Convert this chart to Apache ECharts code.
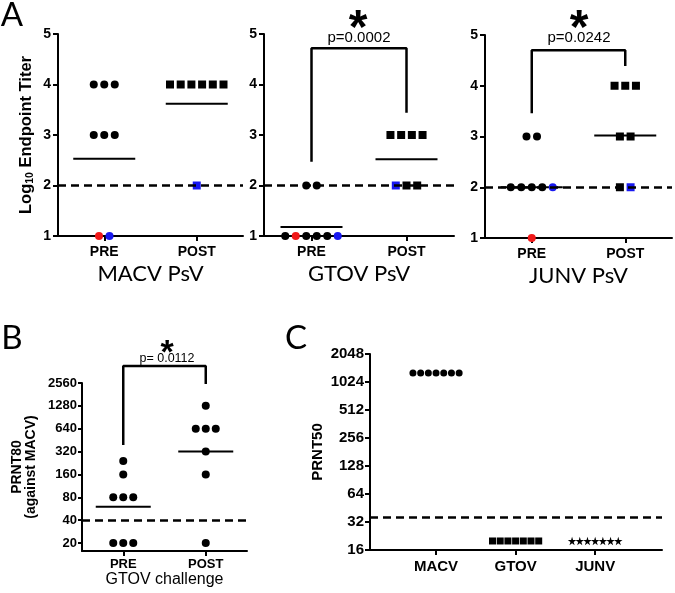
<!DOCTYPE html>
<html><head><meta charset="utf-8">
<script src="https://cdn.jsdelivr.net/npm/echarts@6/dist/echarts.min.js"></script>
<style>html,body{margin:0;padding:0;background:#fff}#c{width:675px;height:593px}</style>
</head><body><div id="c"></div>
<script>
// ---------------- data ----------------
const panelTitles = ['MACV PsV', 'GTOV PsV', 'JUNV PsV'];
const groupCats = ['PRE', 'POST'];
const aTicks = [1, 2, 3, 4, 5];
const aYTitle = ['Log', '10', ' Endpoint Titer'];
const aCutoff = 2;

const macvPre = [4, 4, 4, 3, 3, 3, 1, 1];
const macvPreColors = ['k', 'k', 'k', 'k', 'k', 'k', 'r', 'b'];
const macvPost = [4, 4, 4, 4, 4, 4, 2];
const macvPostColors = ['k', 'k', 'k', 'k', 'k', 'k', 'b'];
const macvMeans = [2.53, 3.62];

const gtovPre = [2, 2, 1, 1, 1, 1, 1, 1];
const gtovPreColors = ['k', 'k', 'k', 'r', 'k', 'k', 'k', 'b'];
const gtovPost = [3, 3, 3, 3, 2, 2, 2];
const gtovPostColors = ['k', 'k', 'k', 'k', 'b', 'k', 'k'];
const gtovMeans = [1.18, 2.52];
const gtovBracket = [2.47, 4.72, 3.44];
const gtovP = 'p=0.0002';

const junvPre = [3, 3, 2, 2, 2, 2, 2, 1];
const junvPreColors = ['k', 'k', 'k', 'k', 'k', 'k', 'b', 'r'];
const junvPost = [4, 4, 4, 3, 3, 2, 2];
const junvPostColors = ['k', 'k', 'k', 'k', 'k', 'k', 'b'];
const junvMeans = [2.0, 3.02];
const junvBracket = [3.46, 4.70, 4.39];
const junvP = 'p=0.0242';

const bTicks = [20, 40, 80, 160, 320, 640, 1280, 2560];
const bYTitle = 'PRNT80\n(against MACV)';
const bXTitle = 'GTOV challenge';
const bPre = [20, 20, 20, 80, 80, 80, 160, 240];
const bPost = [20, 160, 320, 640, 640, 640, 1280];
const bMeans = [60, 320];
const bBracket = [390, 4300, 2490];
const bP = 'p= 0.0112';
const bCutoff = 40;
const bAxisMin = 15.7;

const cCats = ['MACV', 'GTOV', 'JUNV'];
const cTicks = [16, 32, 64, 128, 256, 512, 1024, 2048];
const cYTitle = 'PRNT50';
const cMacv = [1280, 1280, 1280, 1280, 1280, 1280, 1280];
const cGtov = [20, 20, 20, 20, 20, 20, 20];
const cJunv = [20, 20, 20, 20, 20, 20, 20];
const cCutoff = 36;

// ---------------- helpers ----------------
const COLORS = { k: '#000000', r: '#f01818', b: '#1818f0' };
const L2 = v => Math.log2(v);
const BOLD = 'Liberation Sans';
const STAR = 'path://M50,0 L61,35 L98,35 L68,57 L79,91 L50,70 L21,91 L32,57 L2,35 L39,35 Z';

function spread(values, spacing) {
  const counts = {}, seen = {};
  values.forEach(v => { counts[v] = (counts[v] || 0) + 1; });
  return values.map(v => {
    seen[v] = seen[v] === undefined ? 0 : seen[v] + 1;
    return (seen[v] - (counts[v] - 1) / 2) * spacing;
  });
}
function pts(xi, values, colors, spacing, tf) {
  const offs = spread(values, spacing);
  return values.map((v, i) => ({
    value: [xi, tf ? tf(v) : v],
    symbolOffset: [offs[i], 0],
    itemStyle: { color: COLORS[colors ? colors[i] : 'k'], opacity: 1 }
  }));
}
const axisLineStyle = { show: true, onZero: false, lineStyle: { color: '#000', width: 2 } };
const tickStyle = len => ({ show: true, length: len, lineStyle: { color: '#000', width: 2 } });
const lblStyle = (size, margin) => ({ fontFamily: BOLD, fontWeight: 'bold', fontSize: size, color: '#000', margin: margin });
const dashed = (val) => ({
  silent: true, symbol: 'none', animation: false,
  label: { show: false },
  lineStyle: { type: [8, 5], width: 2.5, color: '#000', opacity: 1 },
  data: [{ yAxis: val }]
});
const solid = { color: '#000', opacity: 1 };

const grids = [
  { left: 58, top: 34, width: 185, height: 202 },
  { left: 264, top: 34, width: 190, height: 202 },
  { left: 485, top: 35, width: 187, height: 203 },
  { left: 82, top: 383, width: 165, height: 168 },
  { left: 370, top: 354, width: 292, height: 196 }
];

const xAxis = [], yAxis = [], series = [];
const aSets = [
  [macvPre, macvPreColors, macvPost, macvPostColors, macvMeans, null],
  [gtovPre, gtovPreColors, gtovPost, gtovPostColors, gtovMeans, gtovBracket],
  [junvPre, junvPreColors, junvPost, junvPostColors, junvMeans, junvBracket]
];
aSets.forEach((s, i) => {
  xAxis.push({
    gridIndex: i, type: 'category', data: groupCats, boundaryGap: true,
    axisLine: axisLineStyle, axisTick: Object.assign(tickStyle(5), { alignWithLabel: true }),
    axisLabel: lblStyle(14, 9),
    name: panelTitles[i], nameLocation: 'middle', nameGap: 27,
    nameTextStyle: { fontFamily: 'Lato', fontSize: 22, color: '#000' }
  });
  const ya = {
    gridIndex: i, type: 'value', min: aTicks[0], max: aTicks[aTicks.length - 1], interval: 1,
    splitLine: { show: false }, axisLine: axisLineStyle, axisTick: tickStyle(5),
    axisLabel: lblStyle(14, 7)
  };
  if (i === 0) {
    ya.name = '{n|' + aYTitle[0] + '}{s|' + aYTitle[1] + '}{n|' + aYTitle[2] + '}';
    ya.nameLocation = 'middle';
    ya.nameGap = 22;
    ya.nameTextStyle = {
      rich: {
        n: { fontFamily: BOLD, fontWeight: 'bold', fontSize: 16.5, color: '#000', lineHeight: 20 },
        s: { fontFamily: BOLD, fontWeight: 'bold', fontSize: 10.5, color: '#000', lineHeight: 20, verticalAlign: 'bottom' }
      }
    };
  }
  yAxis.push(ya);
  series.push({
    type: 'scatter', xAxisIndex: i, yAxisIndex: i, symbol: 'rect', symbolSize: [62, 2], z: 2,
    itemStyle: solid, data: s[4].map((m, j) => [j, m]),
    markLine: dashed(aCutoff)
  });
  series.push({ type: 'scatter', xAxisIndex: i, yAxisIndex: i, symbol: 'circle', symbolSize: 8, z: 3, itemStyle: solid, data: pts(0, s[0], s[1], 10.5) });
  series.push({ type: 'scatter', xAxisIndex: i, yAxisIndex: i, symbol: 'rect', symbolSize: 8, z: 3, itemStyle: solid, data: pts(1, s[2], s[3], 10.7) });
  if (s[5]) {
    series.push({
      type: 'line', xAxisIndex: i, yAxisIndex: i, symbol: 'none', clip: false, z: 4,
      lineStyle: { color: '#000', width: 2.5, opacity: 1 },
      data: [[0, s[5][0]], [0, s[5][1]], [1, s[5][1]], [1, s[5][2]]]
    });
  }
});

// Panel B
xAxis.push({
  gridIndex: 3, type: 'category', data: groupCats, boundaryGap: true,
  axisLine: axisLineStyle, axisTick: Object.assign(tickStyle(5), { alignWithLabel: true }),
  axisLabel: lblStyle(13, 7),
  name: bXTitle, nameLocation: 'middle', nameGap: 21,
  nameTextStyle: { fontFamily: 'Liberation Sans', fontSize: 16, color: '#000' }
});
yAxis.push({
  gridIndex: 3, type: 'value', min: L2(bAxisMin), max: L2(bTicks[bTicks.length - 1]),
  splitLine: { show: false }, axisLine: axisLineStyle,
  axisTick: Object.assign(tickStyle(4), { customValues: bTicks.map(L2) }),
  axisLabel: Object.assign(lblStyle(13, 5), { customValues: bTicks.map(L2), formatter: v => String(Math.round(Math.pow(2, v))) }),
  name: bYTitle, nameLocation: 'middle', nameGap: 44,
  nameTextStyle: { fontFamily: BOLD, fontWeight: 'bold', fontSize: 14, color: '#000', lineHeight: 14 }
});
series.push({
  type: 'scatter', xAxisIndex: 3, yAxisIndex: 3, symbol: 'rect', symbolSize: [55, 2], z: 2,
  itemStyle: solid, data: bMeans.map((m, j) => [j, L2(m)]),
  markLine: dashed(L2(bCutoff))
});
series.push({ type: 'scatter', xAxisIndex: 3, yAxisIndex: 3, symbol: 'circle', symbolSize: 8, z: 3, itemStyle: solid, data: pts(0, bPre, null, 10, L2) });
series.push({ type: 'scatter', xAxisIndex: 3, yAxisIndex: 3, symbol: 'circle', symbolSize: 8, z: 3, itemStyle: solid, data: pts(1, bPost, null, 10, L2) });
series.push({
  type: 'line', xAxisIndex: 3, yAxisIndex: 3, symbol: 'none', clip: false, z: 4,
  lineStyle: { color: '#000', width: 2.5, opacity: 1 },
  data: [[0, L2(bBracket[0])], [0, L2(bBracket[1])], [1, L2(bBracket[1])], [1, L2(bBracket[2])]]
});

// Panel C
xAxis.push({
  gridIndex: 4, type: 'value', min: 0.17, max: 3.84,
  splitLine: { show: false }, axisLine: axisLineStyle,
  axisTick: Object.assign(tickStyle(5), { customValues: [1, 2, 3] }),
  axisLabel: Object.assign(lblStyle(15, 9), { customValues: [1, 2, 3], formatter: v => cCats[Math.round(v) - 1] || '' })
});
yAxis.push({
  gridIndex: 4, type: 'value', min: L2(cTicks[0]), max: L2(cTicks[cTicks.length - 1]), interval: 1,
  splitLine: { show: false }, axisLine: axisLineStyle, axisTick: tickStyle(5),
  axisLabel: Object.assign(lblStyle(15, 6), { formatter: v => String(Math.round(Math.pow(2, v))) }),
  name: cYTitle, nameLocation: 'middle', nameGap: 45,
  nameTextStyle: { fontFamily: BOLD, fontWeight: 'bold', fontSize: 15, color: '#000' }
});
series.push({ type: 'scatter', xAxisIndex: 4, yAxisIndex: 4, symbol: 'circle', symbolSize: 7, z: 3, itemStyle: solid, data: pts(1, cMacv, null, 7.7, L2), markLine: dashed(L2(cCutoff)) });
series.push({ type: 'scatter', xAxisIndex: 4, yAxisIndex: 4, symbol: 'rect', symbolSize: 7, z: 3, itemStyle: solid, data: pts(2, cGtov, null, 7.7, L2) });
series.push({ type: 'scatter', xAxisIndex: 4, yAxisIndex: 4, symbol: STAR, symbolSize: 8.5, z: 3, itemStyle: solid, data: pts(3, cJunv, null, 7.7, L2) });

function txt(text, x, y, font, extra) {
  return { type: 'text', x: x, y: y, z: 10, silent: true,
    style: Object.assign({ text: text, font: font, fill: '#000', align: 'center', verticalAlign: 'middle' }, extra || {}) };
}
const graphic = [
  txt('A', 12, 15, '33px Lato'),
  txt('B', 12, 338, '33px Lato'),
  txt('C', 296, 338, '33px Lato'),
  txt('*', 358, 30, 'bold 48px "Liberation Sans"'),
  txt(gtovP, 359, 38, '15px "Liberation Sans"'),
  txt('*', 579, 30, 'bold 48px "Liberation Sans"'),
  txt(junvP, 579, 38, '15px "Liberation Sans"'),
  txt('*', 167, 354, 'bold 34px "Liberation Sans"'),
  txt(bP, 167, 359, '12.5px "Liberation Sans"')
];

const chart = echarts.init(document.getElementById('c'), null, { renderer: 'canvas' });
chart.setOption({
  animation: false,
  backgroundColor: '#fff',
  grid: grids,
  xAxis: xAxis,
  yAxis: yAxis,
  series: series,
  graphic: graphic
});
</script>
</body></html>
